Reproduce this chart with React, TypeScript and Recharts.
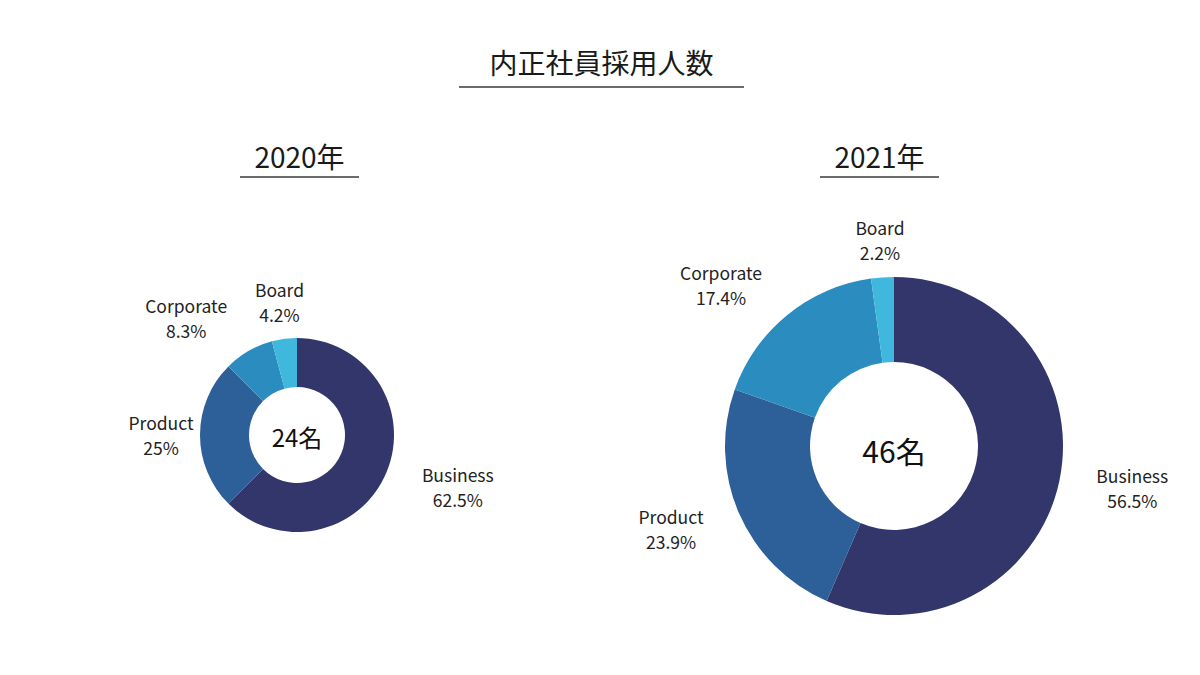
import { PieChart, Pie, Cell } from "recharts"

const categories = ["Business", "Product", "Corporate", "Board"]
const hires2020 = [15, 6, 2, 1]
const hires2021 = [26, 11, 8, 1]
const yearLabels = ["2020年", "2021年"]
const colors = ["#32366b", "#2d5f98", "#2b8cbf", "#40b7dc"]

const data2020 = categories.map((name, i) => ({ name, value: hires2020[i] }))
const data2021 = categories.map((name, i) => ({ name, value: hires2021[i] }))
const total = (arr: number[]) => arr.reduce((a, b) => a + b, 0)

const FONT = '"Noto Sans CJK JP", "Noto Sans", sans-serif'

// label placement: [extra radius beyond the ring, angle shift in degrees]
const nudge2020: Record<string, [number, number]> = {
  Business: [72, 4.6],
  Product: [39, 0],
  Corporate: [64, 13.5],
  Board: [37, 0],
}
const nudge2021: Record<string, [number, number]> = {
  Business: [73, 1.7],
  Product: [69, -3],
  Corporate: [67, 8],
  Board: [37, 0],
}

const fmtPct = (p: number) => {
  const s = (p * 100).toFixed(1)
  return (s.endsWith(".0") ? s.slice(0, -2) : s) + "%"
}

const makeLabel = (nudge: Record<string, [number, number]>) => (props: any) => {
  const { cx, cy, midAngle, outerRadius, percent } = props
  const name = props.name ?? props.payload?.name
  const [extra, dA] = nudge[name] || [40, 0]
  const a = ((midAngle + dA) * Math.PI) / 180
  const r = outerRadius + extra
  const x = cx + r * Math.cos(a)
  const y = cy - r * Math.sin(a)
  return (
    <text x={x} y={y} textAnchor="middle" fontSize={17.5} fill="#222" fontFamily={FONT}>
      <tspan x={x} dy={-5}>{name}</tspan>
      <tspan x={x} dy={25}>{fmtPct(percent)}</tspan>
    </text>
  )
}

const heading = (text: string, left: number, top: number, width: number, size: number, pad: number) => (
  <div
    style={{
      position: "absolute",
      left,
      top,
      width,
      textAlign: "center",
      fontSize: size,
      lineHeight: `${size + 8}px`,
      color: "#1a1a1a",
      paddingBottom: pad,
      borderBottom: "2px solid #6b6b6b",
    }}
  >
    {text}
  </div>
)

const centerText = (text: string, x: number, y: number, size: number) => (
  <div
    style={{
      position: "absolute",
      left: x,
      top: y,
      transform: "translate(-50%, -50%)",
      fontSize: size,
      color: "#111",
      whiteSpace: "nowrap",
    }}
  >
    {text}
  </div>
)

export default function App() {
  return (
    <div
      style={{
        position: "absolute",
        left: 0,
        top: 0,
        width: 1200,
        height: 675,
        background: "#fff",
        fontFamily: FONT,
      }}
    >
      <PieChart width={1200} height={675} margin={{ top: 0, right: 0, bottom: 0, left: 0 }}>
        <Pie
          data={data2020}
          dataKey="value"
          nameKey="name"
          cx={297}
          cy={435}
          innerRadius={48}
          outerRadius={97}
          startAngle={90}
          endAngle={-270}
          stroke="none"
          label={makeLabel(nudge2020)}
          labelLine={false}
          isAnimationActive={false}
        >
          {data2020.map((d, i) => (
            <Cell key={d.name} fill={colors[i]} />
          ))}
        </Pie>
        <Pie
          data={data2021}
          dataKey="value"
          nameKey="name"
          cx={894}
          cy={446}
          innerRadius={84}
          outerRadius={169}
          startAngle={90}
          endAngle={-270}
          stroke="none"
          label={makeLabel(nudge2021)}
          labelLine={false}
          isAnimationActive={false}
        >
          {data2021.map((d, i) => (
            <Cell key={d.name} fill={colors[i]} />
          ))}
        </Pie>
      </PieChart>
      {heading("内正社員採用人数", 459, 44, 285, 28, 6)}
      {heading(yearLabels[0], 240, 138, 119, 28, 2)}
      {heading(yearLabels[1], 820, 138, 119, 28, 2)}
      {centerText(`${total(hires2020)}名`, 297, 436, 24)}
      {centerText(`${total(hires2021)}名`, 894, 450, 30)}
    </div>
  )
}
